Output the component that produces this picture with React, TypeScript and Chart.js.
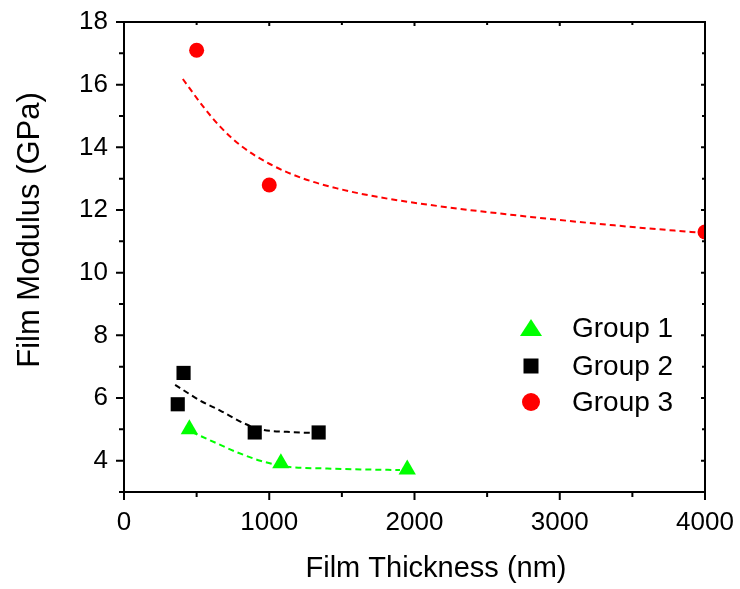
import React, { useEffect, useRef } from "react";
import { Chart, registerables } from "chart.js";

Chart.register(...registerables);

// ---- data ----
const group1X = [450, 1080, 1950];
const group1Y = [5.0, 3.92, 3.72];
const group2X = [370, 410, 900, 1340];
const group2Y = [5.8, 6.8, 4.9, 4.9];
const group3X = [500, 1000, 4000];
const group3Y = [17.1, 12.8, 11.3];

const fit1X = [467, 593, 777, 938, 1122, 1398, 1650, 1900];
const fit1Y = [4.91, 4.65, 4.27, 4.0, 3.81, 3.75, 3.72, 3.7];
const fit2X = [352, 524, 662, 823, 938, 1122, 1329];
const fit2Y = [6.42, 5.92, 5.6, 5.2, 5.0, 4.92, 4.88];
const fit3X = [405, 547, 662, 800, 1007, 1237, 1467, 1743, 2156, 2800, 3375, 4000];
const fit3Y = [16.18, 15.29, 14.66, 14.07, 13.46, 13.0, 12.69, 12.42, 12.13, 11.78, 11.51, 11.26];

const seriesLabels = ["Group 1", "Group 2", "Group 3"];
const xMajorTicks = [0, 1000, 2000, 3000, 4000];
const xMinorTicks = [500, 1500, 2500, 3500];
const yMajorTicks = [4, 6, 8, 10, 12, 14, 16, 18];
const yMinorTicks = [3, 5, 7, 9, 11, 13, 15, 17];
const xTitle = "Film Thickness (nm)";
const yTitle = "Film Modulus (GPa)";

const FONT = '"Liberation Sans", Arial, Helvetica, sans-serif';
const GREEN = "#00ff00";
const RED = "#ff0000";
const BLACK = "#000000";

const pts = (xs: number[], ys: number[]) => xs.map((x, i) => ({ x, y: ys[i] }));

const framePlugin = {
  id: "frameAndLegend",
  afterDatasetsDraw(chart: any) {
    const { ctx, chartArea: a, scales } = chart;
    const sx = scales.x;
    const sy = scales.y;
    ctx.save();
    ctx.strokeStyle = "#000";
    ctx.lineWidth = 2;
    ctx.strokeRect(a.left, a.top, a.right - a.left, a.bottom - a.top);
    ctx.beginPath();
    const seg = (x1: number, y1: number, x2: number, y2: number) => {
      ctx.moveTo(x1, y1);
      ctx.lineTo(x2, y2);
    };
    xMajorTicks.forEach((v) => {
      const p = sx.getPixelForValue(v);
      seg(p, a.bottom, p, a.bottom + 8);
      seg(p, a.top - 1, p, a.top + 4);
    });
    xMinorTicks.forEach((v) => {
      const p = sx.getPixelForValue(v);
      seg(p, a.bottom, p, a.bottom + 5);
      seg(p, a.top - 1, p, a.top + 3);
    });
    yMajorTicks.forEach((v) => {
      const p = sy.getPixelForValue(v);
      seg(a.left - 8, p, a.left, p);
      seg(a.right - 4, p, a.right + 1, p);
    });
    yMinorTicks.forEach((v) => {
      const p = sy.getPixelForValue(v);
      seg(a.left - 5, p, a.left, p);
      seg(a.right - 3, p, a.right + 1, p);
    });
    ctx.stroke();

    // axis titles
    ctx.fillStyle = "#000";
    ctx.font = `29px ${FONT}`;
    ctx.textAlign = "center";
    ctx.textBaseline = "alphabetic";
    ctx.fillText(xTitle, 436, 577);
    ctx.save();
    ctx.font = `31px ${FONT}`;
    ctx.translate(39, 230);
    ctx.rotate(-Math.PI / 2);
    ctx.fillText(yTitle, 0, 0);
    ctx.restore();

    // legend
    const legendX = 531;
    const legendTextX = 572;
    const rowsY = [328, 366, 402];
    ctx.font = `28px ${FONT}`;
    ctx.textAlign = "left";
    ctx.textBaseline = "middle";
    chart.data.datasets.slice(0, 3).forEach((ds: any, i: number) => {
      const cy = rowsY[i];
      ctx.fillStyle = ds.backgroundColor;
      ctx.beginPath();
      if (ds.pointStyle === "triangle") {
        ctx.moveTo(legendX, cy - 9);
        ctx.lineTo(legendX + 11, cy + 8);
        ctx.lineTo(legendX - 11, cy + 8);
        ctx.closePath();
      } else if (ds.pointStyle === "rect") {
        ctx.rect(legendX - 7.5, cy - 7.5, 15, 15);
      } else {
        ctx.arc(legendX, cy, 9, 0, Math.PI * 2);
      }
      ctx.fill();
      ctx.fillStyle = "#000";
      ctx.fillText(ds.label, legendTextX, cy + 1);
    });
    ctx.restore();
  },
};

export default function App() {
  const ref = useRef<HTMLCanvasElement | null>(null);
  useEffect(() => {
    document.body.style.margin = "0";
    const canvas = ref.current;
    if (!canvas) return;
    const chart = new Chart(canvas, {
      type: "scatter",
      data: {
        datasets: [
          {
            label: seriesLabels[0],
            data: pts(group1X, group1Y),
            pointStyle: "triangle",
            pointRadius: 10,
            backgroundColor: GREEN,
            borderColor: GREEN,
            borderWidth: 0,
          },
          {
            label: seriesLabels[1],
            data: pts(group2X, group2Y),
            pointStyle: "rect",
            pointRadius: 10,
            backgroundColor: BLACK,
            borderColor: BLACK,
            borderWidth: 0,
          },
          {
            label: seriesLabels[2],
            data: pts(group3X, group3Y),
            pointStyle: "circle",
            pointRadius: 7.5,
            backgroundColor: RED,
            borderColor: RED,
            borderWidth: 0,
          },
          {
            type: "line",
            label: "fit1",
            data: pts(fit1X, fit1Y),
            borderColor: GREEN,
            borderWidth: 2,
            borderDash: [6, 4],
            pointRadius: 0,
            cubicInterpolationMode: "monotone",
            fill: false,
          },
          {
            type: "line",
            label: "fit2",
            data: pts(fit2X, fit2Y),
            borderColor: BLACK,
            borderWidth: 2,
            borderDash: [6, 4],
            pointRadius: 0,
            cubicInterpolationMode: "monotone",
            fill: false,
          },
          {
            type: "line",
            label: "fit3",
            data: pts(fit3X, fit3Y),
            borderColor: RED,
            borderWidth: 2,
            borderDash: [6, 4],
            pointRadius: 0,
            cubicInterpolationMode: "monotone",
            fill: false,
          },
        ] as any,
      },
      options: {
        responsive: false,
        animation: false,
        events: [],
        layout: { padding: { left: 0, top: 22, right: 35, bottom: 0 } },
        plugins: {
          legend: { display: false },
          tooltip: { enabled: false },
        },
        scales: {
          x: {
            type: "linear",
            min: 0,
            max: 4000,
            grid: { display: false, drawTicks: false },
            border: { display: false },
            afterBuildTicks: (s: any) => {
              s.ticks = xMajorTicks.map((v) => ({ value: v }));
            },
            afterFit: (s: any) => {
              s.height = 97;
              s.paddingLeft = 0;
              s.paddingRight = 0;
              s.paddingTop = 0;
              s.paddingBottom = 0;
            },
            ticks: {
              color: "#000",
              padding: 15,
              maxRotation: 0,
              font: { family: FONT, size: 26 },
              callback: (v: any) => String(v),
            },
          },
          y: {
            type: "linear",
            min: 3,
            max: 18,
            grid: { display: false, drawTicks: false },
            border: { display: false },
            afterBuildTicks: (s: any) => {
              s.ticks = yMajorTicks.map((v) => ({ value: v }));
            },
            afterFit: (s: any) => {
              s.width = 124;
              s.paddingLeft = 0;
              s.paddingRight = 0;
              s.paddingTop = 0;
              s.paddingBottom = 0;
            },
            ticks: {
              color: "#000",
              padding: 16,
              font: { family: FONT, size: 26 },
              callback: (v: any) => String(v),
            },
          },
        },
      },
      plugins: [framePlugin],
    } as any);
    return () => chart.destroy();
  }, []);
  return (
    <div style={{ width: 740, height: 589 }}>
      <canvas ref={ref} width={740} height={589} style={{ display: "block" }} />
    </div>
  );
}
